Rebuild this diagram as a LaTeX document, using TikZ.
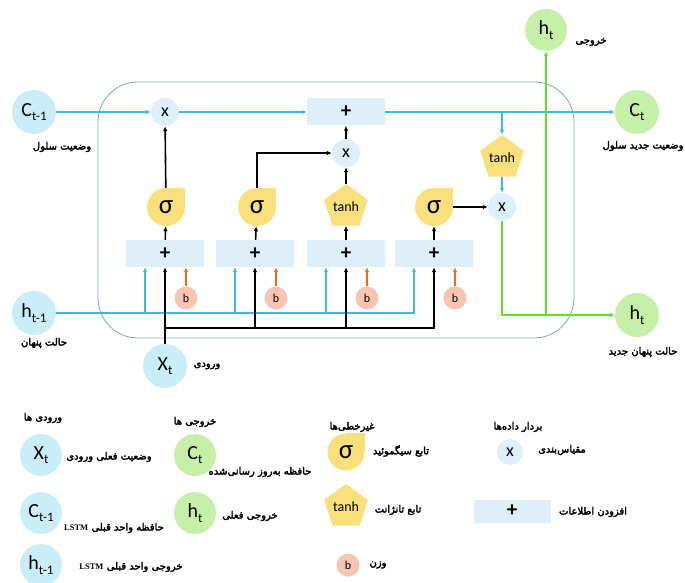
\documentclass[tikz,border=0pt]{standalone}
\usepackage{fontspec}
\setmainfont{Carlito}
\newfontfamily\arabicfont[Script=Arabic,FakeBold=3]{DejaVu Sans}
\newfontfamily\latinserif{Liberation Serif}
\TeXXeTstate=1
\usetikzlibrary{shapes.geometric,arrows.meta,backgrounds}
\definecolor{inblue}{HTML}{C9EEF9}
\definecolor{opblue}{HTML}{DDF0FA}
\definecolor{outgreen}{HTML}{C6F0A8}
\definecolor{gateyellow}{HTML}{F9E07A}
\definecolor{biaspink}{HTML}{F9C5B2}
\definecolor{flowblue}{HTML}{3DB5EE}
\definecolor{biasorange}{HTML}{F5661E}
\definecolor{flowgreen}{HTML}{5EE02A}
\definecolor{cellgray}{HTML}{7FA7BD}
\newcommand\lowsub[1]{\raisebox{-0.45ex}{\fontsize{13}{13}\selectfont #1}}
\newcommand\fatext[1]{{\arabicfont\beginR #1\endR}}
\begin{document}
\begin{tikzpicture}[x=1pt,y=-1pt,>={Latex[length=5pt,width=4.5pt]},
  io/.style={circle,fill=#1,minimum size=44pt,inner sep=0pt,font=\fontsize{20}{20}\selectfont},
  mult/.style={circle,fill=opblue,minimum size=28pt,inner sep=0pt,font=\fontsize{18}{18}\selectfont},
  addbox/.style={rectangle,fill=opblue,minimum width=78pt,minimum height=27pt,inner sep=0pt,font=\fontsize{21}{21}\selectfont\bfseries},
  sig/.style={rectangle,rounded corners=19pt,fill=gateyellow,minimum size=38pt,inner sep=0pt,font=\fontsize{27}{27}\selectfont},
  tanhgate/.style={regular polygon,regular polygon sides=5,fill=gateyellow,minimum size=46pt,inner sep=0pt,font=\fontsize{14}{14}\selectfont},
  bias/.style={circle,fill=biaspink,minimum size=23pt,inner sep=0pt,font=\fontsize{12}{12}\selectfont},
  falabel/.style={inner sep=0pt,font=\fontsize{10}{12}\selectfont},
  blueline/.style={draw=flowblue,line width=1.6pt},
  blackline/.style={draw=black,line width=1.6pt},
  greenline/.style={draw=flowgreen,line width=1.8pt},
  orangeline/.style={draw=biasorange,line width=1.6pt}]
\useasboundingbox (0,0) rectangle (685,583);

\draw[cellgray,line width=0.8pt,rounded corners=40pt] (98,82) rectangle (574,338);

\node[io=inblue] (ctprev) at (34,112) {C\lowsub{t-1}};
\node[io=inblue] (hprev) at (34,313) {h\lowsub{t-1}};
\node[io=inblue] (xt) at (165,366) {X\lowsub{t}};
\node[io=outgreen] (ct) at (637,112) {C\lowsub{t}};
\node[io=outgreen,minimum size=42pt] (htop) at (546,30) {h\lowsub{t}};
\node[io=outgreen] (hnew) at (637,315) {h\lowsub{t}};

\node[mult] (m1) at (165,112) {x};
\node[addbox] (pt) at (346,112) {+};
\node[mult] (m2) at (346,153) {x};
\node[tanhgate] (th) at (502,158) {tanh};
\node[mult] (mo) at (502,207) {x};
\coordinate (tap) at (th |- pt);
\coordinate (xj) at (165,328);

\node[sig] (g1) at (166,207) {σ};
\node[sig] (g2) at (257,207) {σ};
\node[tanhgate] (g3) at (346,207) {tanh};
\node[sig] (g4) at (434,207) {σ};
\begin{scope}[on background layer]
\foreach \g in {g1,g2,g4}{
  \fill[gateyellow] (\g.center) rectangle (\g.north east);
}
\end{scope}

\foreach \i/\x in {1/165,2/255,3/346,4/434}{
  \node[addbox] (p\i) at (\x,253.5) {+};
  \node[bias] (b\i) at (\x+21,298) {b};
  \draw[blueline,->] (hprev) -| ([xshift=-20pt]p\i.south);
  \draw[orangeline,->] (b\i) -- (b\i |- p\i.south);
  \draw[blackline,->] (p\i) -- (g\i);
}
\foreach \i in {2,3,4}{
  \draw[blackline,->] (xj) -| (p\i.south);
}
\draw[blackline,->] (xt) -- (p1);

\draw[blueline,->] (ctprev) -- (m1);
\draw[blueline,->] (m1) -- (pt);
\draw[blueline,->] (pt) -- (ct);
\draw[blueline,->] (tap) -- (th);
\draw[blueline,->] (th) -- (mo);

\draw[blackline,->] (g1) -- (m1);
\draw[blackline,->] (g2) |- (m2);
\draw[blackline,->] (g3) -- (m2);
\draw[blackline,->] (m2) -- (pt);
\draw[blackline,->] (g4) -- (mo);

\draw[greenline,->] (mo) |- (hnew);
\draw[greenline,->] (htop |- hnew) -- (htop);

\node[falabel] (lctprev) at (62,147) {\fatext{وضعیت سلول}};
\node[falabel] (lct) at (643,146) {\fatext{وضعیت جدید سلول}};
\node[falabel] (lhtop) at (591,42) {\fatext{خروجی}};
\node[falabel] (lhprev) at (44,343) {\fatext{حالت پنهان}};
\node[falabel] (lhnew) at (643,352) {\fatext{حالت پنهان جدید}};
\node[falabel] (lxt) at (207,366) {\fatext{ورودی}};

\node[falabel] (kin) at (43,418) {\fatext{ورودی ها}};
\node[io=inblue,minimum size=42pt] (kxt) at (41,455) {X\lowsub{t}};
\node[falabel] at (109,457) {\fatext{وضعیت فعلی ورودی}};
\node[io=inblue,minimum size=42pt] (kctprev) at (41,513) {C\lowsub{t-1}};
\node[falabel] at (114,528) {\fatext{حافظه واحد قبلی \beginL{\latinserif\bfseries\fontsize{8.5}{10}\selectfont LSTM}\endL}};
\node[io=inblue,minimum size=42pt] (khprev) at (41,565) {h\lowsub{t-1}};
\node[falabel] at (131,567) {\fatext{خروجی واحد قبلی \beginL{\latinserif\bfseries\fontsize{8.5}{10}\selectfont LSTM}\endL}};

\node[falabel] (kout) at (195,422) {\fatext{خروجی ها}};
\node[io=outgreen,minimum size=42pt] (kct) at (195,455) {C\lowsub{t}};
\node[falabel] at (260,472) {\fatext{حافظه به^^^^200cروز رسانی^^^^200cشده}};
\node[io=outgreen,minimum size=42pt] (kht) at (195,513) {h\lowsub{t}};
\node[falabel] at (250,516) {\fatext{خروجی فعلی}};

\node[falabel] (knl) at (352,427) {\fatext{غیرخطی^^^^200cها}};
\node[sig,minimum size=37pt,rounded corners=18.5pt] (ksig) at (346,452) {σ};
\begin{scope}[on background layer]
\fill[gateyellow] (ksig.center) rectangle (ksig.north east);
\end{scope}
\node[falabel] at (401,451) {\fatext{تابع سیگموئید}};
\node[tanhgate] (ktanh) at (346,507) {tanh};
\node[falabel] at (398,510) {\fatext{تابع تانژانت}};
\node[bias] (kb) at (348,565) {b};
\node[falabel] at (378,565) {\fatext{وزن}};

\node[falabel] (kvec) at (518,427) {\fatext{بردار داده^^^^200cها}};
\node[mult,minimum size=26pt] (kmul) at (510,452) {x};
\node[falabel] at (562,450) {\fatext{مقیاس^^^^200cبندی}};
\node[addbox,minimum width=77pt,minimum height=23pt] (kadd) at (512,511) {+};
\node[falabel] at (593,512) {\fatext{افزودن اطلاعات}};
\end{tikzpicture}
\end{document}
